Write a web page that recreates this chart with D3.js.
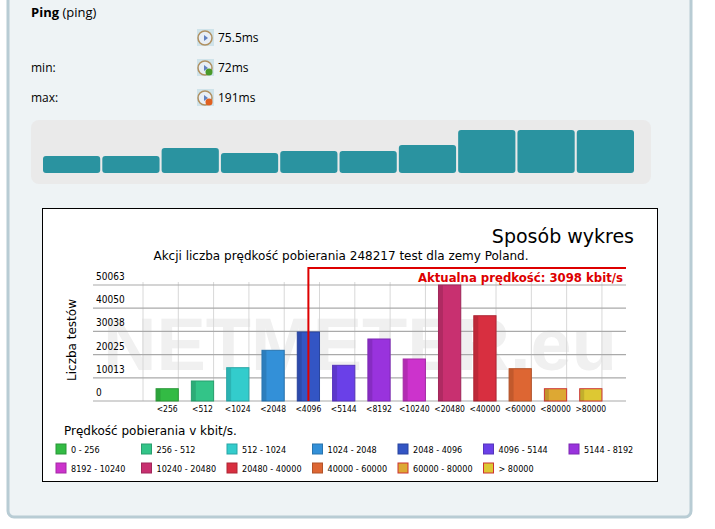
<!DOCTYPE html>
<html><head><meta charset="utf-8">
<script src="https://cdn.jsdelivr.net/npm/d3@7"></script>
<style>body{margin:0;background:#fff}svg{display:block}</style>
</head><body>
<script>
var pingValues = [75, 75, 111, 89, 98, 98, 124, 191, 191, 191];
var categories = ["<256","<512","<1024","<2048","<4096","<5144","<8192","<10240","<20480","<40000","<60000","<80000",">80000"];
var counts = [5300, 8630, 14370, 21880, 29780, 15400, 26760, 18130, 50063, 36800, 13940, 5300, 5300];
var colors = ["#33bb44","#33c488","#33cccc","#3390d8","#3355c4","#6a40e8","#9933dd","#cc33cc","#c83070","#d82f40","#dd6633","#dda833","#ddc833"];
var legendLabels = ["0 - 256","256 - 512","512 - 1024","1024 - 2048","2048 - 4096","4096 - 5144","5144 - 8192","8192 - 10240","10240 - 20480","20480 - 40000","40000 - 60000","60000 - 80000","> 80000"];
var yTicks = [0, 10013, 20025, 30038, 40050, 50063];
var currentSpeed = 3098;

var svg = d3.select("body").append("svg").attr("width", 715).attr("height", 529);
var font = "'Open Sans', sans-serif";
var dv = "'DejaVu Sans', sans-serif";
var dvc = "'DejaVu Sans Condensed', 'DejaVu Sans', sans-serif";

// panel
svg.append("rect").attr("x", 8).attr("y", -10).attr("width", 683).attr("height", 527)
  .attr("rx", 6).attr("fill", "#eef3f5").attr("stroke", "#b8ccd4").attr("stroke-width", 3);

svg.append("text").attr("x", 31).attr("y", 17).attr("font-family", font).attr("font-size", 13)
  .html("<tspan font-weight='bold'>Ping</tspan> (ping)");

var rows = [{l:"", v:"75.5ms", y:38, c:null}, {l:"min:", v:"72ms", y:68, c:"#4a9a2a"}, {l:"max:", v:"191ms", y:98, c:"#e06020"}];
rows.forEach(function(r) {
  svg.append("text").attr("x", 31).attr("y", r.y+4).attr("font-family", font).attr("font-size", 12).text(r.l);
  var g = svg.append("g").attr("transform", "translate(205," + r.y + ")");
  g.append("rect").attr("x", -8).attr("y", -9).attr("width", 17).attr("height", 17).attr("fill", "#cfe3ea");
  g.append("circle").attr("r", 7).attr("fill", "#e8eef5").attr("stroke", "#b09060").attr("stroke-width", 1.5);
  g.append("path").attr("d", "M-1,-3L3,0L-1,3Z").attr("fill", "#6080c0");
  if (r.c) g.append("circle").attr("cx", 4).attr("cy", 4).attr("r", 3.5).attr("fill", r.c);
  svg.append("text").attr("x", 218).attr("y", r.y+4).attr("font-family", font).attr("font-size", 12).text(r.v);
});

// ping bars
svg.append("rect").attr("x", 31).attr("y", 120).attr("width", 620).attr("height", 64).attr("rx", 8).attr("fill", "#eaeaea");
var px = d3.scaleBand().domain(d3.range(pingValues.length)).range([43, 634]).paddingInner(0.035);
var py = d3.scaleLinear().domain([0, 191]).range([173, 130]);
svg.selectAll(".pb").data(pingValues).enter().append("rect")
  .attr("x", function(d, i) { return px(i); }).attr("y", function(d) { return py(d); })
  .attr("width", px.bandwidth()).attr("height", function(d) { return 173 - py(d); })
  .attr("rx", 3).attr("fill", "#2a93a0");

// chart box
svg.append("rect").attr("x", 42.5).attr("y", 208.5).attr("width", 615).attr("height", 273).attr("fill", "#fff").attr("stroke", "#000");

svg.append("text").attr("x", 360).attr("y", 370).attr("text-anchor", "middle").attr("font-family", "'Liberation Sans', Arial, sans-serif")
  .attr("font-weight", "bold").attr("font-size", 74).attr("fill", "#f0f0f0").text("NETMETER.eu");

svg.append("text").attr("x", 634).attr("y", 243).attr("text-anchor", "end").attr("font-family", dv)
  .attr("font-size", 19).text("Sposób wykres");
svg.append("text").attr("x", 341).attr("y", 260).attr("text-anchor", "middle").attr("font-family", dv)
  .attr("font-size", 12).text("Akcji liczba prędkość pobierania 248217 test dla zemy Poland.");

var x = d3.scaleBand().domain(categories).range([143, 615]).padding(0.37);
var y = d3.scaleLinear().domain([0, 50063]).range([401, 285]);

// grid
var step = x.step();
svg.selectAll(".vg").data(d3.range(categories.length + 1)).enter().append("line")
  .attr("x1", function(i) { return 143 + i * step; }).attr("x2", function(i) { return 143 + i * step; })
  .attr("y1", 282).attr("y2", 401).attr("stroke", "#d8d8d8");
svg.selectAll(".hg").data(yTicks).enter().append("line")
  .attr("x1", 93).attr("x2", 626).attr("y1", function(d) { return y(d); }).attr("y2", function(d) { return y(d); })
  .attr("stroke", "#aaaaaa").attr("stroke-width", 1.2);
svg.selectAll(".yt").data(yTicks).enter().append("text")
  .attr("x", 96).attr("y", function(d) { return y(d) - 5; }).attr("font-family", dvc)
  .attr("font-size", 10).text(function(d) { return d; });

svg.append("text").attr("transform", "translate(76,340) rotate(-90)").attr("text-anchor", "middle")
  .attr("font-family", dv).attr("font-size", 12).text("Liczba testów");

// bars
var bars = svg.selectAll(".bar").data(counts).enter().append("g");
bars.append("rect")
  .attr("x", function(d, i) { return x(categories[i]); }).attr("y", function(d) { return y(d); })
  .attr("width", x.bandwidth()).attr("height", function(d) { return 401 - y(d); })
  .attr("fill", function(d, i) { return colors[i]; })
  .attr("stroke", function(d, i) { return i >= 11 ? "#cc3333" : d3.color(colors[i]).darker(0.6); }).attr("stroke-width", 1);
bars.append("rect")
  .attr("x", function(d, i) { return x(categories[i]) + 0.5; }).attr("y", function(d) { return y(d) + 0.5; })
  .attr("width", 4).attr("height", function(d) { return 400.5 - y(d); })
  .attr("fill", "#000").attr("opacity", 0.12);

svg.selectAll(".xl").data(categories).enter().append("text")
  .attr("x", function(d) { return x(d) + x.bandwidth() / 2; }).attr("y", 412).attr("text-anchor", "middle")
  .attr("font-family", dvc).attr("font-size", 8.5).text(function(d) { return d; });

// current speed marker
var cx = x("<4096") + x.bandwidth() / 2;
svg.append("path").attr("d", "M" + cx + ",401V268H626").attr("fill", "none").attr("stroke", "#dd0000").attr("stroke-width", 2);
svg.append("text").attr("x", 623).attr("y", 282).attr("text-anchor", "end").attr("font-family", dvc)
  .attr("font-size", 13).attr("font-weight", "bold").attr("fill", "#dd0000").text("Aktualna prędkość: " + currentSpeed + " kbit/s");

// legend
svg.append("text").attr("x", 64).attr("y", 435).attr("font-family", dv).attr("font-size", 12)
  .text("Prędkość pobierania v kbit/s.");
var lg = svg.selectAll(".lg").data(legendLabels).enter().append("g")
  .attr("transform", function(d, i) { return "translate(" + (56 + (i % 7) * 85.5) + "," + (i < 7 ? 449 : 468) + ")"; });
lg.append("rect").attr("x", 0).attr("y", -5).attr("width", 10).attr("height", 10)
  .attr("fill", function(d, i) { return colors[i]; })
  .attr("stroke", function(d, i) { return i >= 11 ? "#cc3333" : d3.color(colors[i]).darker(0.6); });
lg.append("text").attr("x", 15).attr("y", 4).attr("font-family", dvc).attr("font-size", 9)
  .text(function(d) { return d; });
</script>
</body></html>
